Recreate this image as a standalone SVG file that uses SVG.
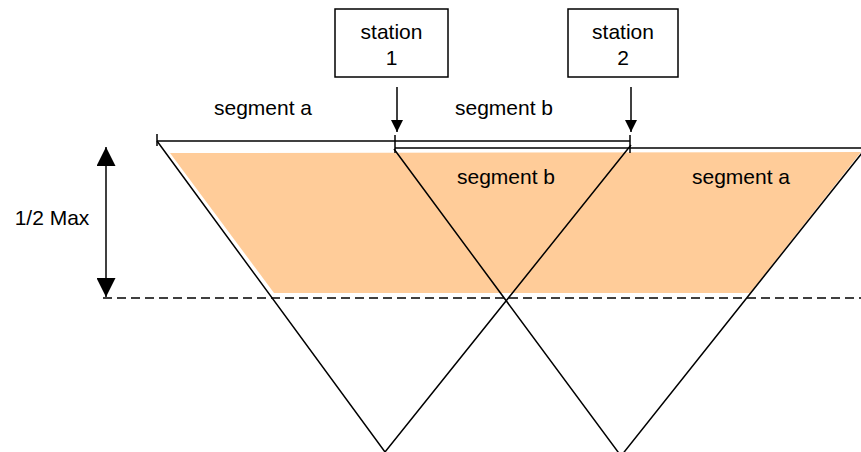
<svg xmlns="http://www.w3.org/2000/svg" width="861" height="452" viewBox="0 0 861 452">
  <defs>
    <marker id="ah" viewBox="0 0 10 10" refX="10" refY="5" markerWidth="10" markerHeight="10" markerUnits="userSpaceOnUse" orient="auto">
      <path d="M0,0 L10,5 L0,10 Z" fill="#000"/>
    </marker>
    <marker id="ahs" viewBox="0 0 12 12" refX="12" refY="6" markerWidth="14" markerHeight="12" markerUnits="userSpaceOnUse" orient="auto">
      <path d="M0,0 L12,6 L0,12 Z" fill="#000"/>
    </marker>
    <marker id="ahb" viewBox="0 0 20 20" refX="20" refY="10" markerWidth="20" markerHeight="19" markerUnits="userSpaceOnUse" orient="auto">
      <path d="M0,0 L20,10 L0,20 Z" fill="#000"/>
    </marker>
  </defs>
  <style>
    .ln { stroke: #000; stroke-width: 1.5; fill: none; }
    .box { stroke: #000; stroke-width: 1.5; fill: #fff; }
    .t { font-family: "Liberation Sans", Arial, sans-serif; font-size: 21px; fill: #000; text-anchor: middle; }
  </style>
  <rect width="861" height="452" fill="#fff"/>

  <g id="fill-area">
    <polygon points="170,153 861,152 750,293 274,293" fill="#FFCC99"/>
  </g>

  <g id="connectors">
    <!-- triangles -->
    <polyline class="ln" points="157,141 385,452 631,145"/>
    <polyline class="ln" points="394,149 621,456 866,148"/>
    <!-- top dimension lines -->
    <line class="ln" x1="157" y1="141" x2="630" y2="141"/>
    <line class="ln" x1="395" y1="148" x2="861" y2="148"/>
    <line class="ln" x1="157" y1="134" x2="157" y2="146"/>
    <line class="ln" x1="395" y1="135" x2="395" y2="153"/>
    <line class="ln" x1="630" y1="135" x2="630" y2="153"/>
    <!-- dashed half max line -->
    <line class="ln" x1="103" y1="298" x2="861" y2="298" stroke-dasharray="9,5"/>
    <!-- vertical double arrow -->
    <line class="ln" x1="106" y1="222" x2="106" y2="147" marker-end="url(#ahb)"/>
    <line class="ln" x1="106" y1="222" x2="106" y2="297" marker-end="url(#ahb)"/>
    <!-- station arrows -->
    <line class="ln" x1="397" y1="87" x2="397" y2="132" marker-end="url(#ahs)"/>
    <line class="ln" x1="631" y1="87" x2="631" y2="132" marker-end="url(#ahs)"/>
  </g>

  <g id="station1">
    <rect class="box" x="335" y="9" width="113" height="68"/>
    <text class="t" x="391.5" y="39">station</text>
    <text class="t" x="391.5" y="65">1</text>
  </g>
  <g id="station2">
    <rect class="box" x="568" y="9" width="110" height="68"/>
    <text class="t" x="623" y="39">station</text>
    <text class="t" x="623" y="65">2</text>
  </g>

  <g id="labels">
    <text class="t" x="263" y="115">segment a</text>
    <text class="t" x="504" y="115">segment b</text>
    <text class="t" x="506" y="184">segment b</text>
    <text class="t" x="741" y="184">segment a</text>
    <text class="t" x="52" y="225">1/2 Max</text>
  </g>
</svg>
